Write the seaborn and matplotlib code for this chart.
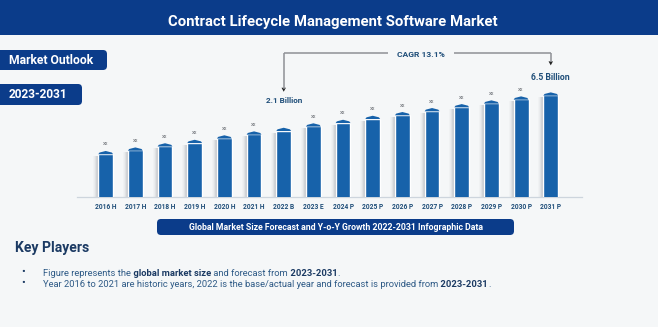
import matplotlib
matplotlib.use("Agg")
import matplotlib.pyplot as plt
import pandas as pd
import seaborn as sns
from matplotlib.patches import FancyBboxPatch, Rectangle, Polygon
from matplotlib.transforms import Affine2D

# ---- data -------------------------------------------------------------
years = ["2016 H", "2017 H", "2018 H", "2019 H", "2020 H", "2021 H", "2022 B",
         "2023 E", "2024 P", "2025 P", "2026 P", "2027 P", "2028 P", "2029 P",
         "2030 P", "2031 P"]
market_size_bn = [1.00, 1.12, 1.28, 1.43, 1.65, 1.87, 2.10, 2.42, 2.71, 3.08,
                  3.47, 3.94, 4.47, 5.04, 5.72, 6.50]
bar_notes = ["xx", "xx", "xx", "xx", "xx", "xx", "", "xx", "xx", "xx", "xx",
             "xx", "xx", "xx", "xx", ""]
start_label = "2.1 Billion"
end_label = "6.5 Billion"
cagr_label = "CAGR 13.1%"

title = "Contract Lifecycle Management Software Market"
caption = "Global Market Size Forecast and Y-o-Y Growth 2022-2031 Infographic Data"
bullet_lines = [
    [("Figure represents the", "normal"), (" global market size", "bold"),
     (" and forecast from", "normal"), (" 2023-2031", "bold"), (".", "normal")],
    [("Year 2016 to 2021 are historic years, 2022 is the base/actual year and "
      "forecast is provided from", "normal"), (" 2023-2031", "bold"), (".", "normal")],
]

# ---- style ------------------------------------------------------------
W, H = 658, 327
NAVY = "#0B3C8A"
BAR = "#1762AA"
BG = "#F5F7F8"
INK = "#1F4E79"
TEXT = "#2E5A86"
DARK = "#1B3A63"

sns.set_style("white")
plt.rcParams["font.family"] = ["Roboto", "DejaVu Sans"]

fig = plt.figure(figsize=(W / 100, H / 100), dpi=100)
fig.patch.set_facecolor(BG)
renderer = fig.canvas.get_renderer()

# pixel coordinates measured from the top-left corner
pix = Affine2D().scale(1, -1).translate(0, H)

# transparent overlay used for annotations placed in pixel coordinates
overlay = fig.add_axes([0, 0, 1, 1], zorder=5)
overlay.set_axis_off()
overlay.patch.set_alpha(0)


def text_width(s, size, weight):
    t = fig.text(0, 0, s, fontsize=size, fontweight=weight)
    w = t.get_window_extent(renderer).width
    t.remove()
    return w


def fit_size(s, width_px, weight="bold"):
    return 10 * width_px / text_width(s, 10, weight)


def label(x, y, s, width_px, color, weight="bold", ha="left", va="center", **kw):
    size = fit_size(s, width_px, weight)
    return fig.text(x, y, s, fontsize=size, fontweight=weight, color=color,
                    ha=ha, va=va, transform=pix, **kw)


def box(x0, y0, x1, y1, r=4, color=NAVY):
    p = FancyBboxPatch((x0, y0), x1 - x0, y1 - y0,
                       boxstyle=f"round,pad=0,rounding_size={r}",
                       fc=color, ec="none", transform=pix)
    fig.add_artist(p)


# ---- header and side tags ---------------------------------------------
fig.add_artist(Rectangle((0, 0), W, 35, fc=NAVY, ec="none", transform=pix))
label(W / 2 + 4, 22, title, 331, "white", ha="center")

box(-6, 50, 107, 70)
label(9, 60, "Market Outlook", 84, "white")
box(-6, 84, 82, 105)
label(9, 94.5, "2023-2031", 59, "white")

# ---- bar chart ----------------------------------------------------------
ax = fig.add_axes([77 / W, 1 - 197 / H, 505 / W, 110 / H])
ax.set_facecolor("none")
df = pd.DataFrame({"year": years, "size": market_size_bn})
sns.barplot(data=df, x="year", y="size", color=BAR, saturation=1, width=0.5,
            ax=ax, zorder=3)
ax.set_yscale("log")
ax.set_ylim(0.253, 8.49)
ax.set_xlim(-0.967, 16.053)
ax.set_xlabel("")
ax.set_ylabel("")
ax.set_yticks([])
ax.minorticks_off()
for s in ["left", "top", "right"]:
    ax.spines[s].set_visible(False)
ax.spines["bottom"].set_color("#CDD5DD")
ax.spines["bottom"].set_linewidth(0.9)

tick_size = fit_size("2016 H", 21.5)
ax.tick_params(axis="x", length=0, pad=4.5, labelsize=tick_size, labelcolor=INK)
for t in ax.get_xticklabels():
    t.set_fontweight("bold")

to_px = lambda x, y: (lambda d: (d[0], H - d[1]))(ax.transData.transform((x, y)))
base_y = H - ax.transAxes.transform((0, 0))[1]

bars = list(ax.patches)
tops = []
for bar, note in zip(bars, bar_notes):
    x0, w, v = bar.get_x(), bar.get_width(), bar.get_height()
    xl, yv = to_px(x0, v)
    xr, _ = to_px(x0 + w, v)
    xc = (xl + xr) / 2
    tops.append((xc, yv))
    # gently peaked roof
    ax.add_patch(Polygon([(xl, yv + 0.3), (xl + 1.2, yv - 1.4), (xc, yv - 3),
                          (xr - 1.2, yv - 1.4), (xr, yv + 0.3)],
                         closed=True, fc=BAR, ec="none", transform=pix,
                         clip_on=False, zorder=3))
    # soft shadow on the left side
    for k, a in enumerate([0.42, 0.3, 0.18, 0.09, 0.04]):
        ax.add_patch(Rectangle((xl - k - 1, yv + 2), 1, base_y - yv - 2,
                               fc="#7F868E", ec="none", alpha=a, transform=pix,
                               clip_on=False, zorder=2))
    if note:
        fig.text(xc, yv - 10, note, fontsize=4.0, color="#6B6F75",
                 ha="center", va="center", transform=pix)

# ---- CAGR callout -------------------------------------------------------
(xs, ys), (xe, ye) = tops[6], tops[-1]
line_y = ye - 42
gray = "#8E9196"
label(xs, ys - 30.5, start_label, 37, INK, ha="center")
label(xe, ye - 18, end_label, 39, INK, ha="center")
xm = (xs + xe) / 2 + 4
label(xm, line_y + 1, cagr_label, 48, INK, ha="center")
for xa, xb, ya, yb in [(xs, xs, line_y, ys - 42), (xs, xm - 33, line_y, line_y),
                       (xm + 33, xe, line_y, line_y), (xe, xe, line_y, ye - 33)]:
    fig.add_artist(plt.Line2D([xa, xb], [ya, yb], color=gray, lw=1.1,
                              transform=pix, solid_capstyle="butt"))
for xa, ya in [(xs, ys - 42), (xe, ye - 33)]:
    fig.add_artist(Polygon([(xa - 2.2, ya - 1), (xa + 2.2, ya - 1), (xa, ya + 3)],
                           closed=True, fc="#222222", ec="none", transform=pix))

# ---- caption bar ----------------------------------------------------------
box(157, 219, 514, 235, r=4)
label(336, 227, caption, 298, "white", ha="center")

# ---- key players notes ------------------------------------------------------
label(15, 248, "Key Players", 74, DARK)

sizes = []
for line, target in zip(bullet_lines, [296, 448]):
    joined = "".join(s for s, _ in line)
    sizes.append(fit_size(joined, target, "normal"))
body_size = min(sizes)

for line, y in zip(bullet_lines, [272.3, 283.3]):
    fig.text(23, y, "\u2022", fontsize=8, color=DARK, ha="center", va="center",
             transform=pix)
    prev = None
    for s, wt in line:
        color = DARK if wt == "bold" else TEXT
        if prev is None:
            prev = overlay.annotate(s, xy=(43, y), xycoords=pix, fontsize=body_size,
                                    fontweight=wt, color=color, ha="left",
                                    va="center_baseline")
        else:
            prev = overlay.annotate(s, xy=(1, 0), xycoords=prev, fontsize=body_size,
                                    fontweight=wt, color=color, ha="left",
                                    va="bottom")

fig.savefig("out.png", dpi=100, facecolor=BG)
